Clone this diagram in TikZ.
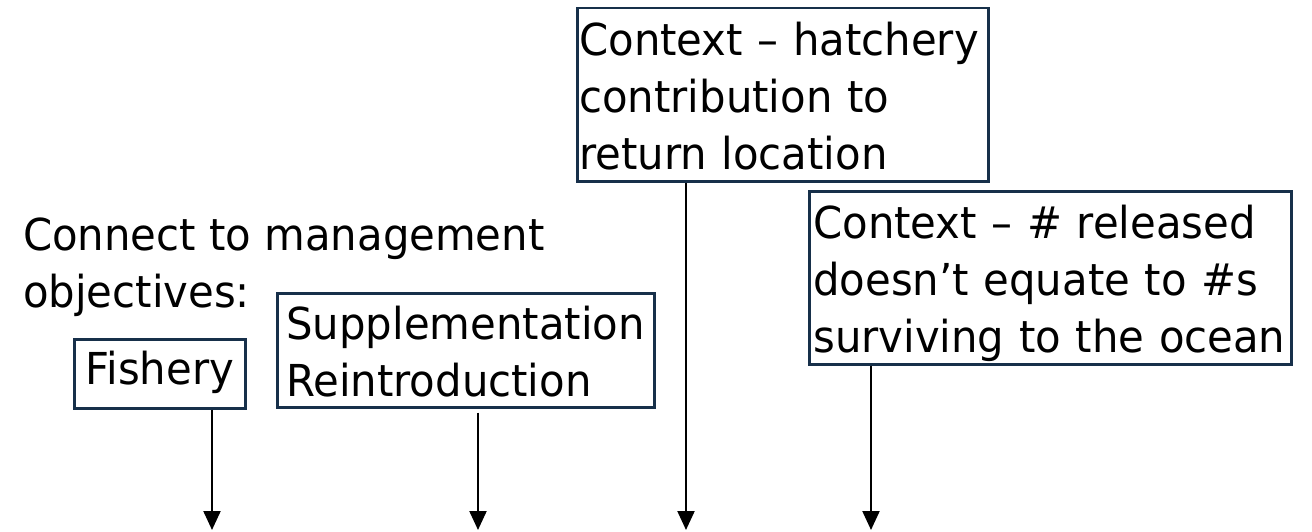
\documentclass[tikz,border=0pt]{standalone}
\usepackage{fontspec}
\setmainfont[FakeStretch=0.95]{DejaVu Sans}
\usetikzlibrary{arrows.meta,positioning}
\definecolor{boxnavy}{HTML}{17304A}
\newcommand\lstrut{\rule[-11pt]{0pt}{57pt}}
\tikzset{
    bigtext/.style={font=\fontsize{44}{57}\selectfont, text=black},
    plaintxt/.style={bigtext, anchor=north west, align=left, inner sep=0pt},
    objbox/.style={bigtext, draw=boxnavy, line width=2.5pt, anchor=north west, align=left, inner ysep=1pt},
    tagbox/.style={bigtext, draw=boxnavy, line width=2.5pt, anchor=north west, inner sep=0pt, text height=45pt, text depth=24pt},
    arrowfwd/.style={-{Triangle[width=17pt,length=19pt]}, line width=2.2pt, black}
}
\begin{document}
\begin{tikzpicture}[x=1pt,y=-1pt]
        \useasboundingbox (0,0) rectangle (1312,532);

        % management objectives
        \node[plaintxt] (objtitle) at (23,204) {\lstrut Connect to management\\\lstrut objectives:};
        \node[tagbox, minimum width=171pt, minimum height=69pt] (fishery) at (73,338) {Fishery};
        \node[objbox, text width=359pt, inner xsep=9pt, inner ysep=0pt] (supp) at (276,292) {\lstrut Supplementation\\\lstrut Reintroduction};

        % context boxes
        \node[objbox, text width=407pt, inner xsep=2pt] (ctxhatch) at (576,7) {\lstrut Context -- hatchery\\\lstrut contribution to\\\lstrut return location};
        \node[objbox, text width=474pt, inner xsep=4pt] (ctxrel) at (808,190) {\lstrut Context -- \# released\\\lstrut doesn’t equate to \#s\\\lstrut surviving to the ocean};

        % arrow ends
        \coordinate (fishtip) at (212,530);
        \coordinate (supptip) at (478,530);
        \coordinate (hatchtip) at (686,530);
        \coordinate (reltip) at (871,530);

        \draw[arrowfwd] (fishery.south -| fishtip) -- (fishtip);
        \draw[arrowfwd, shorten <=4pt] (supp.south -| supptip) -- (supptip);
        \draw[arrowfwd] (ctxhatch.south -| hatchtip) -- (hatchtip);
        \draw[arrowfwd] (ctxrel.south -| reltip) -- (reltip);
    \end{tikzpicture}
\end{document}
